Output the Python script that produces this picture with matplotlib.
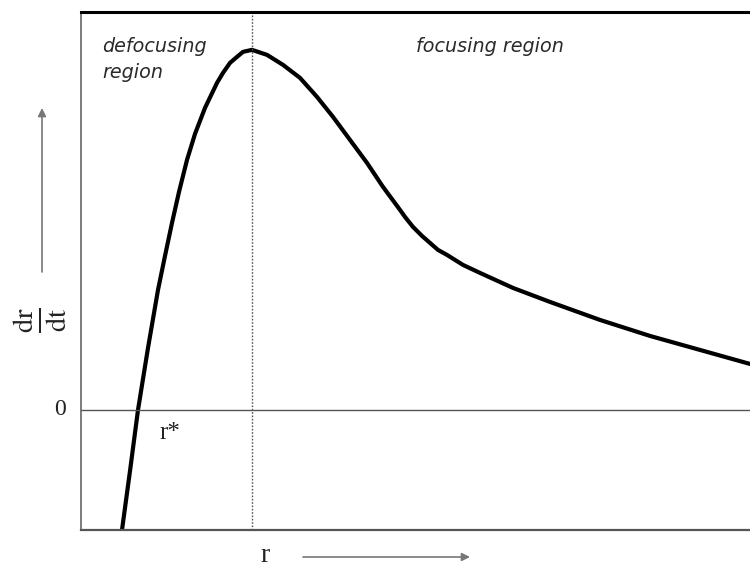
import matplotlib.pyplot as plt
from matplotlib.patches import FancyArrowPatch

plt.rcParams['mathtext.fontset'] = 'stix'

# curve (arbitrary units, no ticks in the original)
r_vals = [4.1, 4.9, 5.7, 6.7, 7.7, 8.4, 9.1, 9.8, 10.6, 11.4, 12.4, 13.6,
          14.2, 14.9, 15.6, 16.2, 17.1, 18.6, 20.2, 21.9, 23.6, 25.2, 26.9,
          28.6, 30.2, 31.9, 32.4, 33.2, 34.1, 34.9, 35.7, 36.6, 38.2, 39.9,
          43.2, 46.9, 51.9, 56.9, 61.9, 66.9]
drdt_vals = [-12.0, -6.1, 0.0, 6.2, 12.0, 15.4, 18.7, 21.8, 25.0, 27.6, 30.2,
             32.7, 33.7, 34.7, 35.3, 35.8, 36.0, 35.5, 34.5, 33.2, 31.3, 29.3,
             27.0, 24.7, 22.3, 20.0, 19.3, 18.3, 17.4, 16.7, 16.0, 15.5, 14.5,
             13.7, 12.2, 10.8, 9.0, 7.4, 6.0, 4.6]
r_peak = 17.1
r_star = 5.7

fig = plt.figure(figsize=(7.5, 5.7), dpi=100)
ax = fig.add_axes([0.108, 0.0702, 0.892, 0.909])

ax.plot(r_vals, drdt_vals, color='black', linewidth=3.0,
        solid_joinstyle='round', solid_capstyle='round')
ax.axhline(0, color='#555555', linewidth=1.0)
ax.axvline(r_peak, color='#555555', linewidth=1.0, linestyle=(0, (1.2, 1.2)))

ax.set_xlim(0, 66.9)
ax.set_ylim(-12.0, 39.8)
ax.set_xticks([])
ax.set_yticks([])

ax.spines['right'].set_visible(False)
ax.spines['left'].set_color('#666666')
ax.spines['left'].set_linewidth(1.2)
ax.spines['bottom'].set_color('#555555')
ax.spines['bottom'].set_linewidth(1.6)
ax.spines['top'].set_color('black')
ax.spines['top'].set_linewidth(2.2)

# region labels
ax.text(2.1, 37.3, 'defocusing\nregion', fontsize=13.8, style='italic',
        color='#2a2a2a', family='DejaVu Sans', va='top', ha='left',
        linespacing=1.45)
ax.text(33.5, 37.3, 'focusing region', fontsize=13.8, style='italic',
        color='#2a2a2a', family='DejaVu Sans', va='top', ha='left')

# zero tick and r*
ax.text(-1.5, 0, '0', fontsize=17, family='Liberation Serif',
        ha='right', va='center', color='#222222')
ax.text(r_star + 3.2, -1.2, 'r*', fontsize=18, family='Liberation Serif',
        ha='center', va='top', color='#222222')

# axis names with arrows
fig.text(265 / 750, 1 - 555 / 570, 'r', fontsize=20, family='Liberation Serif',
         ha='center', va='center', color='#222222')
fig.text(40 / 750, 1 - 320 / 570, r'$\frac{\mathrm{dr}}{\mathrm{dt}}$',
         fontsize=29, rotation=90, ha='center', va='center', color='#222222')

fig.patches.append(FancyArrowPatch(
    (303 / 750, 1 - 557 / 570), (470 / 750, 1 - 557 / 570),
    transform=fig.transFigure, arrowstyle='-|>', mutation_scale=12,
    color='#777777', linewidth=1.2, shrinkA=0, shrinkB=0))
fig.patches.append(FancyArrowPatch(
    (42 / 750, 1 - 272 / 570), (42 / 750, 1 - 108 / 570),
    transform=fig.transFigure, arrowstyle='-|>', mutation_scale=12,
    color='#777777', linewidth=1.2, shrinkA=0, shrinkB=0))

fig.savefig('out.png', dpi=100)
